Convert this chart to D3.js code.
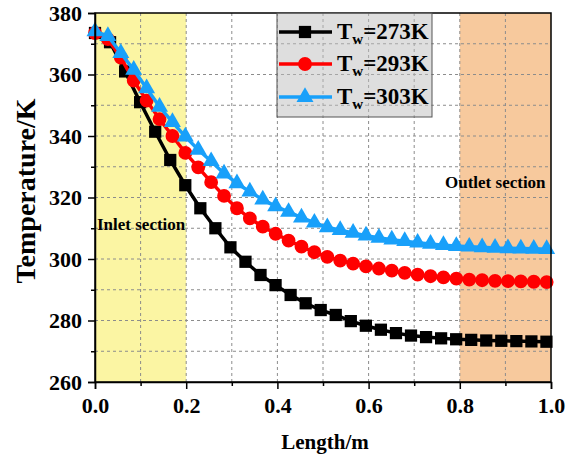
<!DOCTYPE html>
<html>
<head>
<meta charset="utf-8">
<script src="https://cdn.jsdelivr.net/npm/d3@7"></script>
<style>
  body { margin: 0; background: #fff; }
  svg text { font-family: "Liberation Serif", "Times New Roman", serif; font-weight: bold; }
</style>
</head>
<body>
<div id="plot"></div>
<script>
var width = 575;
var height = 459;

// data
var x273 = d3.range(31).map(function(i) { return i * 0.033; });
var t273 = [373.5, 370.5, 361, 351, 341.4, 332.2, 324, 316.5, 310, 303.8, 299.1,
             294.8, 291.5, 288.3, 285.6, 283.4, 281.8, 279.8, 278.3, 277, 275.9,
             275.1, 274.6, 274.2, 273.9, 273.7, 273.5, 273.4, 273.3, 273.2, 273.1];

var x293 = d3.range(36).map(function(i) { return i * 0.0283; });
var t293 = [373.5, 371.5, 365.5, 358, 351.5, 345.5, 340, 334.5, 329.8, 325, 320.5,
             316.5, 313.2, 310.5, 308.2, 306, 304, 302.2, 300.7, 299.5, 298.5,
             297.6, 296.9, 296.2, 295.5, 294.9, 294.4, 294, 293.6, 293.3, 293.1,
             292.9, 292.8, 292.7, 292.6, 292.5];

var x303 = x293;
var t303 = [374, 372.5, 367, 361.5, 355.5, 349.5, 344.5, 339.8, 335.5, 331.8, 327.8,
             324.6, 321.9, 319.3, 317.1, 315.3, 313.5, 311.8, 310.3, 309.4, 308.5,
             307.6, 306.9, 306.3, 305.8, 305.3, 304.9, 304.5, 304.2, 304, 303.8,
             303.6, 303.5, 303.4, 303.3, 303.2];

var seriesNames = ['273K', '293K', '303K'];
var seriesColors = ['#000000', '#ff0000', '#18a0fa'];
var xTicks = [0, 0.2, 0.4, 0.6, 0.8, 1.0];
var yTicks = [260, 280, 300, 320, 340, 360, 380];
var inletRange = [0, 0.2];
var outletRange = [0.8, 1.0];

var canvas = d3.select('#plot')
    .append('svg')
    .attr('width', width)
    .attr('height', height);

var x_scale = d3.scaleLinear().domain([0, 1]).range([95, 551]);
var y_scale = d3.scaleLinear().domain([260, 380]).range([382, 13]);

// shaded sections
canvas.append('rect')
    .attr('x', x_scale(inletRange[0]))
    .attr('y', y_scale(380))
    .attr('width', x_scale(inletRange[1]) - x_scale(inletRange[0]))
    .attr('height', y_scale(260) - y_scale(380))
    .attr('fill', '#fbf5a3');

canvas.append('rect')
    .attr('x', x_scale(outletRange[0]))
    .attr('y', y_scale(380))
    .attr('width', x_scale(outletRange[1]) - x_scale(outletRange[0]))
    .attr('height', y_scale(260) - y_scale(380))
    .attr('fill', '#f7c99d');

// dashed grid
var gx = d3.range(1, 10).map(function(i) { return i / 10; });
var gy = d3.range(270, 380, 10);

canvas.selectAll('line.gridx')
    .data(gx)
    .enter()
    .append('line')
    .attr('class', 'gridx')
    .attr('x1', function(d) { return x_scale(d); })
    .attr('x2', function(d) { return x_scale(d); })
    .attr('y1', y_scale(260))
    .attr('y2', y_scale(380))
    .attr('stroke', '#8c8c8c')
    .attr('stroke-width', 1)
    .attr('stroke-dasharray', '3,3');

canvas.selectAll('line.gridy')
    .data(gy)
    .enter()
    .append('line')
    .attr('class', 'gridy')
    .attr('x1', x_scale(0))
    .attr('x2', x_scale(1))
    .attr('y1', function(d) { return y_scale(d); })
    .attr('y2', function(d) { return y_scale(d); })
    .attr('stroke', '#8c8c8c')
    .attr('stroke-width', 1)
    .attr('stroke-dasharray', '3,3');

// section labels
canvas.append('text')
    .attr('x', 97)
    .attr('y', 230)
    .attr('font-size', 17)
    .text('Inlet section');

canvas.append('text')
    .attr('x', 445)
    .attr('y', 188)
    .attr('font-size', 17)
    .text('Outlet section');

// series
var allSeries = [
    { xs: x273, ys: t273, sym: d3.symbolSquare, size: 150 },
    { xs: x293, ys: t293, sym: d3.symbolCircle, size: 150 },
    { xs: x303, ys: t303, sym: d3.symbolTriangle, size: 125 }
];

var line_gen = d3.line()
    .x(function(d) { return x_scale(d[0]); })
    .y(function(d) { return y_scale(d[1]); });

allSeries.forEach(function(s, k) {
    var pts = s.xs.map(function(x, i) { return [x, s.ys[i]]; });
    canvas.append('path')
        .attr('d', line_gen(pts))
        .attr('fill', 'none')
        .attr('stroke', seriesColors[k])
        .attr('stroke-width', 3.5);
    canvas.selectAll('path.mk' + k)
        .data(pts)
        .enter()
        .append('path')
        .attr('class', 'mk' + k)
        .attr('transform', function(d) { return 'translate(' + x_scale(d[0]) + ',' + y_scale(d[1]) + ')'; })
        .attr('d', d3.symbol().type(s.sym).size(s.size))
        .attr('fill', seriesColors[k]);
});

// axes
var x_axis = d3.axisBottom(x_scale)
    .tickValues(xTicks)
    .tickSize(7)
    .tickPadding(8)
    .tickFormat(d3.format('.1f'));

var gX = canvas.append('g')
    .attr('transform', 'translate(0,' + y_scale(260) + ')')
    .call(x_axis);
gX.selectAll('text').attr('font-size', 22).attr('fill', '#000');

canvas.append('g')
    .attr('transform', 'translate(0,' + y_scale(260) + ')')
    .call(d3.axisBottom(x_scale).tickValues([0.1, 0.3, 0.5, 0.7, 0.9]).tickSize(4).tickFormat(''))
    .select('.domain').remove();

var y_axis = d3.axisLeft(y_scale)
    .tickValues(yTicks)
    .tickSize(7)
    .tickPadding(6);

var gY = canvas.append('g')
    .attr('transform', 'translate(' + x_scale(0) + ',0)')
    .call(y_axis);
gY.selectAll('text').attr('font-size', 22).attr('fill', '#000');

canvas.append('g')
    .attr('transform', 'translate(' + x_scale(0) + ',0)')
    .call(d3.axisLeft(y_scale).tickValues([270, 290, 310, 330, 350, 370]).tickSize(4).tickFormat(''))
    .select('.domain').remove();

canvas.selectAll('.domain, .tick line').attr('stroke', '#000').attr('stroke-width', 1.5);

// frame
canvas.append('rect')
    .attr('x', x_scale(0))
    .attr('y', y_scale(380))
    .attr('width', x_scale(1) - x_scale(0))
    .attr('height', y_scale(260) - y_scale(380))
    .attr('fill', 'none')
    .attr('stroke', '#000')
    .attr('stroke-width', 1.5);

// axis titles
canvas.append('text')
    .attr('x', 325)
    .attr('y', 449)
    .attr('text-anchor', 'middle')
    .attr('font-size', 21)
    .text('Length/m');

canvas.append('text')
    .attr('transform', 'translate(35,191) rotate(-90)')
    .attr('text-anchor', 'middle')
    .attr('font-size', 28)
    .text('Temperature/K');

// legend
var legend = canvas.append('g');
legend.append('rect')
    .attr('x', 277)
    .attr('y', 13)
    .attr('width', 155)
    .attr('height', 104)
    .attr('fill', '#bdbdbd')
    .attr('fill-opacity', 0.5)
    .attr('stroke', '#555')
    .attr('stroke-width', 1);

var legY = [32, 64, 97];
allSeries.forEach(function(s, k) {
    legend.append('line')
        .attr('x1', 279).attr('x2', 332)
        .attr('y1', legY[k]).attr('y2', legY[k])
        .attr('stroke', seriesColors[k])
        .attr('stroke-width', 3.5);
    legend.append('path')
        .attr('transform', 'translate(305,' + legY[k] + ')')
        .attr('d', d3.symbol().type(s.sym).size(s.size))
        .attr('fill', seriesColors[k]);
    var t = legend.append('text')
        .attr('x', 337)
        .attr('y', legY[k] + 7)
        .attr('font-size', 23);
    t.append('tspan').text('T');
    t.append('tspan').attr('font-size', 15).attr('dy', 5).text('w');
    t.append('tspan').attr('dy', -5).text('=' + seriesNames[k]);
});
</script>
</body>
</html>
